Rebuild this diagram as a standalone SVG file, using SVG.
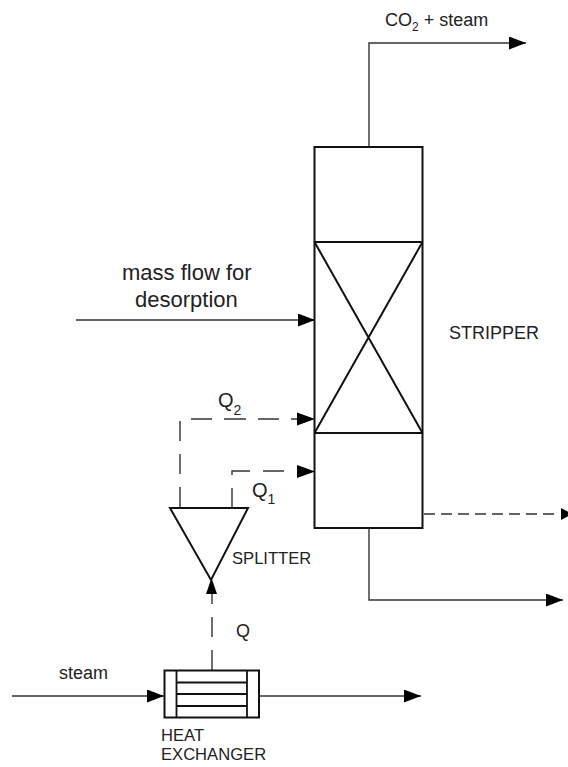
<svg xmlns="http://www.w3.org/2000/svg" width="568" height="767" viewBox="0 0 568 767">
<style>
text{font-family:"Liberation Sans",Arial,sans-serif;fill:#222}
.sm{font-size:16.600px}.md{font-size:18px}.lg{font-size:22px}.q{font-size:20px}
.eq{fill:none;stroke:#111;stroke-width:2}
.eqt{fill:none;stroke:#111;stroke-width:1.8}
.flow{fill:none;stroke:#333;stroke-width:1.4}
.dash{fill:none;stroke:#333;stroke-width:1.4}
.head{fill:#000;stroke:none}
</style>
<defs>
<marker id="ah" markerUnits="userSpaceOnUse" markerWidth="18" markerHeight="14" refX="17" refY="6.500" orient="auto"><path class="head" d="M0 0L17 6.500L0 13Z"/></marker>
</defs>
<rect width="568" height="767" fill="#fff"/>
<g id="connectors">
<path class="flow" marker-end="url(#ah)" d="M369 146V43H526"/>
<path class="flow" marker-end="url(#ah)" d="M76 320H315"/>
<path class="flow" marker-end="url(#ah)" d="M369 529V600H563"/>
<path class="flow" marker-end="url(#ah)" d="M12 696H164"/>
<path class="flow" marker-end="url(#ah)" d="M259 696H421"/>
<path class="dash" stroke-dasharray="11 6" d="M424 514H556"/>
<path class="head" d="M561 508L572 514L561 520Z"/>
<path class="dash" d="M180 508V487M180 474V454M180 441V421M191 419H212M224 419H246M258 419H279M291 419H298"/>
<path class="head" d="M297 412.500L315 419L297 425.500Z"/>
<path class="dash" d="M232 507V488M232 475V471H250M263 471H284"/>
<path class="head" d="M297 465L315 471.500L297 478Z"/>
<path class="dash" d="M212 670V650M212 637V617M212 604V594"/>
<path class="head" d="M206 594L211.500 578L217 594Z"/>
</g>
<g id="stripper">
<rect class="eq" x="314.500" y="147" width="108" height="381"/>
<path class="eq" d="M314.500 242H422.500M314.500 433H422.500M314.500 242L422.500 433M422.500 242L314.500 433"/>
<text class="md" x="449" y="339">STRIPPER</text>
</g>
<g id="splitter">
<path class="eq" d="M170 508H248L211 580Z"/>
<text class="sm" x="232" y="564">SPLITTER</text>
</g>
<g id="heat-exchanger">
<rect class="eq" x="164.500" y="670.500" width="94.500" height="47"/>
<path class="eqt" d="M176.500 670.500V717.500M247 670.500V717.500M176.500 682.500H247M176.500 694H247M176.500 706H247"/>
<text class="sm" x="161" y="741">HEAT</text>
<text class="sm" x="161" y="760">EXCHANGER</text>
</g>
<g id="labels">
<text class="md" x="385" y="26">CO<tspan font-size="12" dy="5">2</tspan><tspan dy="-5"> + steam</tspan></text>
<text class="lg" x="122" y="280">mass flow for</text>
<text class="lg" x="135" y="306.500">desorption</text>
<text class="q" x="218" y="407">Q<tspan font-size="14" dy="8">2</tspan></text>
<text class="q" x="252" y="497">Q<tspan font-size="14" dy="7">1</tspan></text>
<text class="md" x="236" y="637">Q</text>
<text class="md" x="59" y="679">steam</text>
</g>
</svg>
